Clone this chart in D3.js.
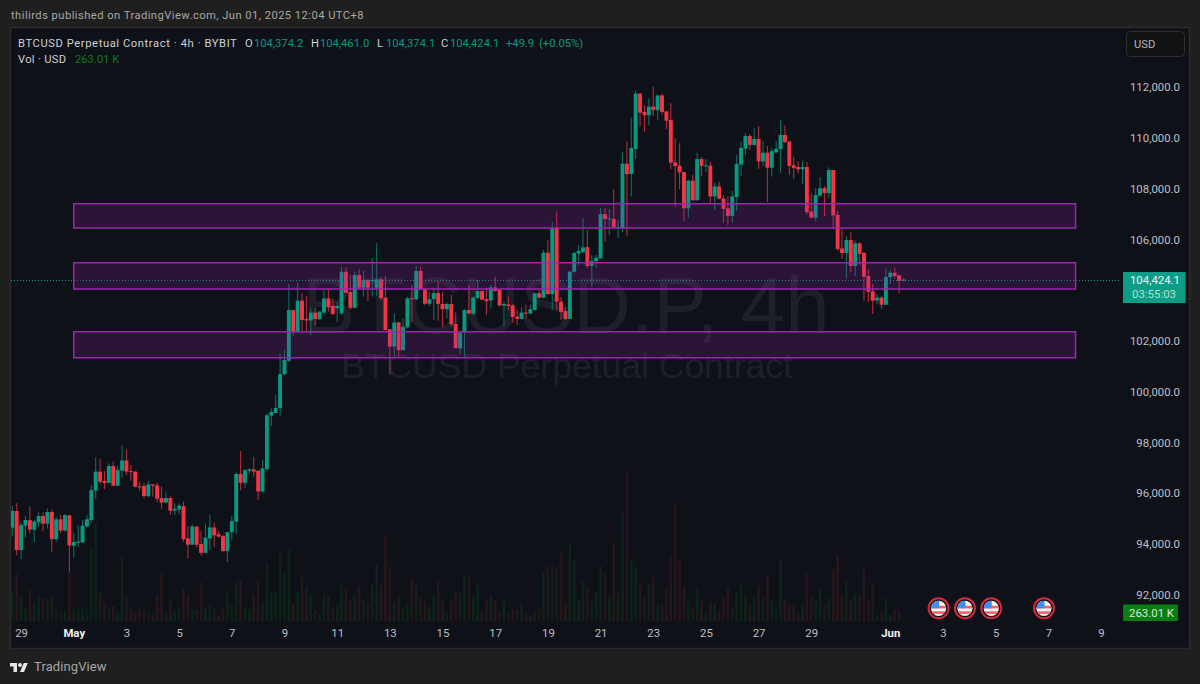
<!DOCTYPE html>
<html><head><meta charset="utf-8">
<script src="https://cdnjs.cloudflare.com/ajax/libs/d3/7.9.0/d3.min.js"></script>
<style>html,body{margin:0;padding:0;background:#1f1f1f;overflow:hidden}svg{display:block}text{font-family:Roboto,"Liberation Sans",sans-serif}</style>
</head><body><svg id="c" width="1200" height="684"></svg>
<script>
const opens=[94640,95300,93760,94720,94940,94560,94850,95100,94800,95260,
94190,94970,94530,95130,93930,94050,94060,94690,94940,96100,
96850,96480,96410,97070,96300,96890,97290,96870,96850,96270,
96280,95880,96350,96310,95810,95630,95810,95320,95360,95490,
94220,93970,94680,94000,93650,94220,94650,94380,94310,93720,
94460,94880,96760,96410,96890,96940,96890,96070,96950,99060,
99160,99350,100690,101220,103220,102340,103590,102870,102810,103120,
102870,103120,103680,103380,103290,103090,104730,103930,103310,104600,
104100,104400,104380,104100,104430,103710,102460,101780,102730,101640,
102540,103690,103640,104760,104040,103470,103650,103890,103460,103250,
103460,102670,101710,102340,103220,103080,103690,103970,103650,103600,
104110,104010,103400,103440,103400,102960,102870,103120,103080,103220,
103880,103710,105480,103850,106440,103550,103180,102870,104730,105450,
105500,105700,104960,105150,105260,107000,106810,106810,106460,106450,
108990,108580,109570,111750,111030,110900,111240,111100,111680,111050,
110710,109040,108910,108660,107230,108320,107550,109170,108900,108910,
107700,108090,107620,107230,106930,107680,108950,109580,110080,109730,
109960,109080,109420,108830,109440,109560,110120,109860,108930,108860,
108770,108860,107100,106860,107730,108020,107830,108740,106970,105650,
105470,105980,104960,105850,105470,104560,103960,103600,103710,103430,
104520,104690,104590,104374.2];
const highs=[95490,95600,94840,95110,95490,94940,95240,95240,95400,95360,
95070,95140,95180,95140,94440,94720,94940,95130,96310,97410,
97350,96870,97180,97250,97070,97890,97730,97110,96890,96450,
96410,96470,96360,96410,96260,96070,95880,95600,95600,95680,
94710,94770,94710,94500,94810,95130,94840,94520,94350,94470,
95100,96820,97660,96940,96980,97440,96890,97310,99150,99340,
99870,101490,101640,104240,103220,104310,103900,103750,103290,103290,
103160,104010,104040,103680,103550,104930,104900,104600,104730,104840,
104770,104430,105260,105850,104530,104570,102460,103090,102760,102890,
103750,104210,104960,104930,104080,103940,104110,104340,103920,103510,
103810,103120,102370,103250,104210,103750,104400,104010,104080,104230,
104530,104040,103550,103750,103460,103220,103330,103420,103430,103900,
104010,105590,105980,106690,107100,103730,103350,104760,105520,105780,
106850,106370,105390,105390,107240,107240,107200,107980,106770,109450,
109880,110800,111870,111780,111300,111570,112020,111710,111760,111080,
111370,109990,109790,108670,108350,108540,109420,109240,109170,109070,
108240,108270,107750,107710,107910,109330,109860,110190,110150,110380,
110470,109880,109690,109600,109860,110710,110490,109890,109260,109090,
109110,109060,107820,108020,108450,108110,108850,108740,107120,106440,
106140,106300,105950,105900,105520,104840,104250,103840,103780,104850,
104820,104900,104610,104461.0];
const lows=[94290,93560,93400,94250,94420,94060,94680,94510,94610,93690,
94090,94440,94480,92870,93470,93890,94050,94650,94840,95780,
96360,96160,96390,96280,96280,96610,96720,96490,96230,96100,
95810,95860,95860,95650,95390,95600,95150,95150,95170,94090,
93430,93960,93860,93540,93650,93760,93890,94250,93690,93290,
94150,94380,96120,96220,96760,96650,95730,96020,96850,98650,
99160,99050,100660,101180,102210,102340,102340,102370,102240,102630,
102830,103020,103160,103020,102760,103020,103880,103220,103290,104080,
103750,103580,103750,103770,103620,102430,100680,101380,101410,101620,
102500,102760,103620,104010,103420,103380,102830,102800,102540,102890,
102600,101700,101490,101380,103060,103020,103670,103620,103020,103290,
103940,103380,102560,103220,102720,102630,102850,102850,103060,103210,
103680,103680,103810,103220,103220,102830,102830,102850,104690,105000,
105470,104880,104130,104880,105250,105910,106180,106450,106060,106300,
106140,107700,109170,110450,110250,110510,110870,110710,110920,110360,
108770,107290,107990,106730,106860,107520,107530,108500,108670,107430,
107160,107590,106660,106570,106650,107120,108520,109330,109530,109710,
108790,108900,107480,108480,109400,108630,109790,108540,108390,108610,
108190,107000,106840,106730,107720,106930,107620,106400,105560,105230,
104470,104720,104560,105000,103590,103540,103060,103450,103260,103420,
104250,104470,103880,104374.1];
const closes=[95300,93760,94750,94940,94570,94880,95100,94800,95260,94190,
94970,94530,95130,93940,94080,94100,94720,94970,96120,96850,
96450,96410,97070,96300,96910,97290,96850,96830,96260,96240,
95890,96350,96300,95780,95630,95810,95310,95390,95510,94190,
93970,94690,93970,93650,94250,94650,94340,94290,93720,94460,
94900,96760,96410,96910,96950,96850,96070,96980,99070,99200,
99360,100700,101250,103220,102370,103590,102830,102810,103120,102870,
103160,103680,103330,103060,103380,104730,103900,103310,104600,104100,
104400,104100,104400,104430,103690,102430,101780,102730,101640,102560,
103680,103670,104760,104040,103470,103650,103890,103460,103260,103460,
102660,101720,102330,103220,103080,103710,103970,103630,103570,104110,
103970,103400,103460,103380,102950,102870,103120,103090,103250,103880,
103710,105480,103850,106440,103550,103150,102870,104730,105470,105550,
105690,104960,105150,105280,107000,106810,106830,106480,106490,108990,
108580,109610,111750,111000,110900,111240,111100,111680,111030,110680,
109030,108900,108650,107230,108320,107550,109170,108900,108930,107700,
108090,107610,107210,106930,107700,108980,109610,110080,109730,109960,
109080,109420,108830,109480,109570,110120,109840,108900,108820,108770,
108860,107080,106860,107750,108020,107830,108740,106950,105630,105470,
105980,104960,105850,105430,104530,103940,103590,103710,103430,104520,
104690,104560,104370,104424.1];
const volumesM=[22.5,35.3,19,9.5,23.3,14.3,19,17,17,19.5,
8.8,6.3,7,35.8,9.5,8.8,10.3,8.8,54.3,72.8,
21.3,13.8,10.3,11.3,6.3,47.5,18.3,8.8,7,8.8,
7.8,6.5,5.3,18.8,36.3,5.3,15.3,7.8,9.5,24.5,
20.3,8.3,8.8,29,10.8,11.8,8.8,4.5,9.5,22,
12.5,28.3,31.3,8.8,8.8,20.3,30.3,14.3,42.3,20.8,
21.3,50.8,36.3,53.3,12.8,21.8,32.8,26.3,20,8.3,
4.8,19.3,19,10.3,12,27.3,24.5,16.3,20,25.8,
15.8,12.8,27,42.8,27,64,40.8,14.3,18.3,10.3,
12.8,32.3,27,17,15.3,10.8,19.5,29.8,16.3,5.3,
15.3,21.3,21.3,35,33.3,18.3,27,7.8,16.3,18.3,
15.8,7,15.8,5.8,8.8,8.8,12.8,5.8,4.3,7.3,
8.8,37.3,40.8,41.3,40.3,50.8,13.8,58.8,46.3,15.8,
29.5,25.3,15,22.5,41.3,35.8,17,58.3,20.8,81.3,
111.5,46.3,40.3,27.3,18.3,28.3,33.8,12.5,13.3,25,
48.8,88.3,45,26.3,15,10.3,24.3,15.3,5.3,14.3,
12.5,8.3,17.8,24.3,10.8,21.3,27.8,18.8,12,18.3,
26.8,17.8,33.3,15.3,9.3,45.8,15.8,12,12,5.8,
11.8,35.5,17.8,15.3,23.8,12,17,38.8,49.5,19.5,
29.3,15.8,20.3,19,39.3,15.8,28.3,4.5,7,17,
4.5,8.3,7.8,0.263];
const priceTicks=[112000,110000,108000,106000,104000,102000,100000,98000,96000,94000,92000];
const priceTickHidden=[104000];
const timeTickIndex=[2,14,26,38,50,62,74,86,98,110,122,134,146,158,170,182,200,212,224,236,248];
const timeTickLabel=["29","May","3","5","7","9","11","13","15","17","19","21","23","25","27","29","Jun","3","5","7","9"];
const zones=[[107411,106453],[105086,104049],[102365,101340]];
const zoneStartIndex=14, zoneEndIndex=242.2;
const eventIndex=[211,217,223,235];
const lastPrice=104424.1;

const UP="#089981",DOWN="#f23645";
const svg=d3.select("#c");
const x=d3.scaleLinear().domain([0,250]).range([12.3,12.3+4.39*250]);
const y=d3.scaleLinear().domain([92000,112000]).range([594.7,87.3]);
const v=d3.scaleLinear().domain([0,111.5]).range([621,472.3]);

// frame
svg.append("rect").attr("x",0).attr("y",0).attr("width",1200).attr("height",684).attr("fill","#1f1f1f");
svg.append("rect").attr("x",10.5).attr("y",27.5).attr("width",1179).attr("height",621).attr("fill","#0e1118").attr("stroke","#2b2b2b").attr("stroke-width",1.5);
svg.append("text").attr("x",11).attr("y",19).attr("fill","#a8a8a8").attr("font-size",11.2).attr("letter-spacing",.45).text("thilirds published on TradingView.com, Jun 01, 2025 12:04 UTC+8");

// clip
svg.append("clipPath").attr("id","pane").append("rect").attr("x",11).attr("y",28).attr("width",1109).attr("height",594);
const pane=svg.append("g").attr("clip-path","url(#pane)");

// watermark
pane.append("text").attr("x",566).attr("y",333).attr("text-anchor","middle").attr("font-size",80).attr("fill","#1d2028").style("font-family","'Liberation Sans'").text("BTCUSD.P, 4h");
pane.append("text").attr("x",567).attr("y",378).attr("text-anchor","middle").attr("font-size",35.5).attr("fill","#1d2028").style("font-family","'Liberation Sans'").text("BTCUSD Perpetual Contract");

const idx=d3.range(opens.length);
const isUp=i=>closes[i]>=opens[i];

// volume
pane.append("g").selectAll("rect").data(idx).join("rect")
  .attr("x",i=>x(i)-1.4).attr("width",2.8)
  .attr("y",i=>Math.min(v(volumesM[i]),620)).attr("height",i=>Math.max(v(0)-v(volumesM[i]),1))
  .attr("fill",i=>isUp(i)?"#0e2219":"#24171b");

// wicks
pane.append("g").selectAll("line").data(idx).join("line")
  .attr("x1",i=>x(i)).attr("x2",i=>x(i)).attr("y1",i=>y(highs[i])).attr("y2",i=>y(lows[i]))
  .attr("stroke",i=>isUp(i)?"#0b6f60":"#b12c3b").attr("stroke-width",1.1);
// bodies
pane.append("g").selectAll("rect").data(idx).join("rect")
  .attr("x",i=>x(i)-1.95).attr("width",3.9)
  .attr("y",i=>y(Math.max(opens[i],closes[i])))
  .attr("height",i=>Math.max(Math.abs(y(opens[i])-y(closes[i])),1))
  .attr("fill",i=>isUp(i)?UP:DOWN);

// price line
const ly=Math.round(y(lastPrice))+0.5;
pane.append("line").attr("x1",11).attr("x2",1120).attr("y1",ly).attr("y2",ly)
  .attr("stroke",UP).attr("stroke-width",1).attr("stroke-dasharray","1 2");

// zones
pane.append("g").selectAll("rect").data(zones).join("rect")
  .attr("x",x(zoneStartIndex)).attr("width",x(zoneEndIndex)-x(zoneStartIndex))
  .attr("y",d=>y(d[0])).attr("height",d=>y(d[1])-y(d[0]))
  .attr("fill","rgba(156,39,176,0.2)").attr("stroke","#9c27b0").attr("stroke-width",1.5);

// axes
const yAxis=d3.axisRight(y).tickValues(priceTicks.filter(t=>!priceTickHidden.includes(t))).tickSize(0).tickPadding(0).tickFormat(d3.format(",.1f"));
const ya=svg.append("g").attr("transform","translate(1180,0)").call(yAxis);
ya.select(".domain").remove();
ya.selectAll("text").attr("text-anchor","end").attr("x",0).attr("fill","#bdbfc6").attr("font-size",11.4);

const xAxis=d3.axisBottom(x).tickValues(timeTickIndex).tickSize(0).tickPadding(0).tickFormat((d,i)=>timeTickLabel[i]);
const xa=svg.append("g").attr("transform","translate(0,629)").call(xAxis);
xa.select(".domain").remove();
xa.selectAll("text").attr("y",0).attr("dy","0.71em").attr("fill",d=>[14,200].includes(d)?"#f0f0f0":"#bdbfc6").attr("font-size",11.4).attr("font-weight",d=>[14,200].includes(d)?700:400);

// header legend
const hdr=svg.append("g").attr("font-size",11.2);
const t=(xp,yp,s,c,ls)=>hdr.append("text").attr("x",xp).attr("y",yp).attr("fill",c).attr("letter-spacing",ls).text(s);
const fmt=d3.format(",.1f");
const n=opens.length-1;
t(18,47,"BTCUSD Perpetual Contract · 4h · BYBIT","#cfd0d4",.59);
[[245,"O",opens[n]],[311,"H",highs[n]],[377,"L",lows[n]],[441,"C",closes[n]]].forEach(d=>{
  t(d[0],47,d[1],"#cfd0d4",0);
  t(d[0]+9,47,fmt(d[2]),UP,0);
});
t(506,47,"+49.9",UP,0);
t(539,47,"(+0.05%)",UP,0);
t(18,63,"Vol · USD","#cfd0d4",.3);
t(75,63,"263.01 K","#0f7a1c",0);

// USD button
svg.append("rect").attr("x",1126.5).attr("y",31.5).attr("width",58).attr("height",25).attr("rx",4).attr("fill","#111214").attr("stroke","#2e2e2e");
svg.append("text").attr("x",1134).attr("y",47.5).attr("fill","#b5b5b5").attr("font-size",11.2).text("USD");

// price label
svg.append("rect").attr("x",1123).attr("y",y(lastPrice)-7.5).attr("width",62.5).attr("height",31).attr("fill","#0b9d85");
svg.append("text").attr("x",1180).attr("y",y(lastPrice)+4).attr("text-anchor","end").attr("fill","#f4f4f4").attr("font-size",11.4).text(fmt(lastPrice));
svg.append("text").attr("x",1176).attr("y",y(lastPrice)+18).attr("text-anchor","end").attr("fill","#b5e2d9").attr("font-size",11.4).text("03:55:03");

// volume label
svg.append("rect").attr("x",1123).attr("y",604.5).attr("width",55).attr("height",16.5).attr("rx",1).attr("fill","#0a7d13");
svg.append("text").attr("x",1174).attr("y",617).attr("text-anchor","end").attr("fill","#d8ead9").attr("font-size",11.4).text("263.01 K");

// event flags
const fl=svg.append("g").selectAll("g").data(eventIndex).join("g").attr("transform",d=>`translate(${x(d)},608.3)`);
svg.append("clipPath").attr("id","flagclip").append("circle").attr("r",7.6);
fl.append("circle").attr("r",10).attr("fill","#111").attr("stroke","#d5293e").attr("stroke-width",2);
const inner=fl.append("g").attr("clip-path","url(#flagclip)");
inner.append("rect").attr("x",-8).attr("y",-8).attr("width",16).attr("height",16).attr("fill","#f5f5f5");
inner.append("rect").attr("x",-8).attr("y",-2.5).attr("width",16).attr("height",2.6).attr("fill","#f0656b");
inner.append("rect").attr("x",-8).attr("y",3).attr("width",16).attr("height",2.6).attr("fill","#f0656b");
inner.append("rect").attr("x",-8).attr("y",-8).attr("width",8.5).attr("height",8).attr("fill","#3f8ef0");

// logo
const logo=svg.append("g").attr("transform","translate(10,661) scale(0.5)").attr("fill","#e6e6e6");
logo.append("path").attr("d","M14 22H7V11H0V4h14v18zM28 22h-8l7.5-18h8L28 22z");
logo.append("circle").attr("cx",20).attr("cy",8).attr("r",4);
svg.append("text").attr("x",34).attr("y",671).attr("fill","#a6a6a6").attr("font-size",13).attr("letter-spacing",.1).text("TradingView");
</script></body></html>
